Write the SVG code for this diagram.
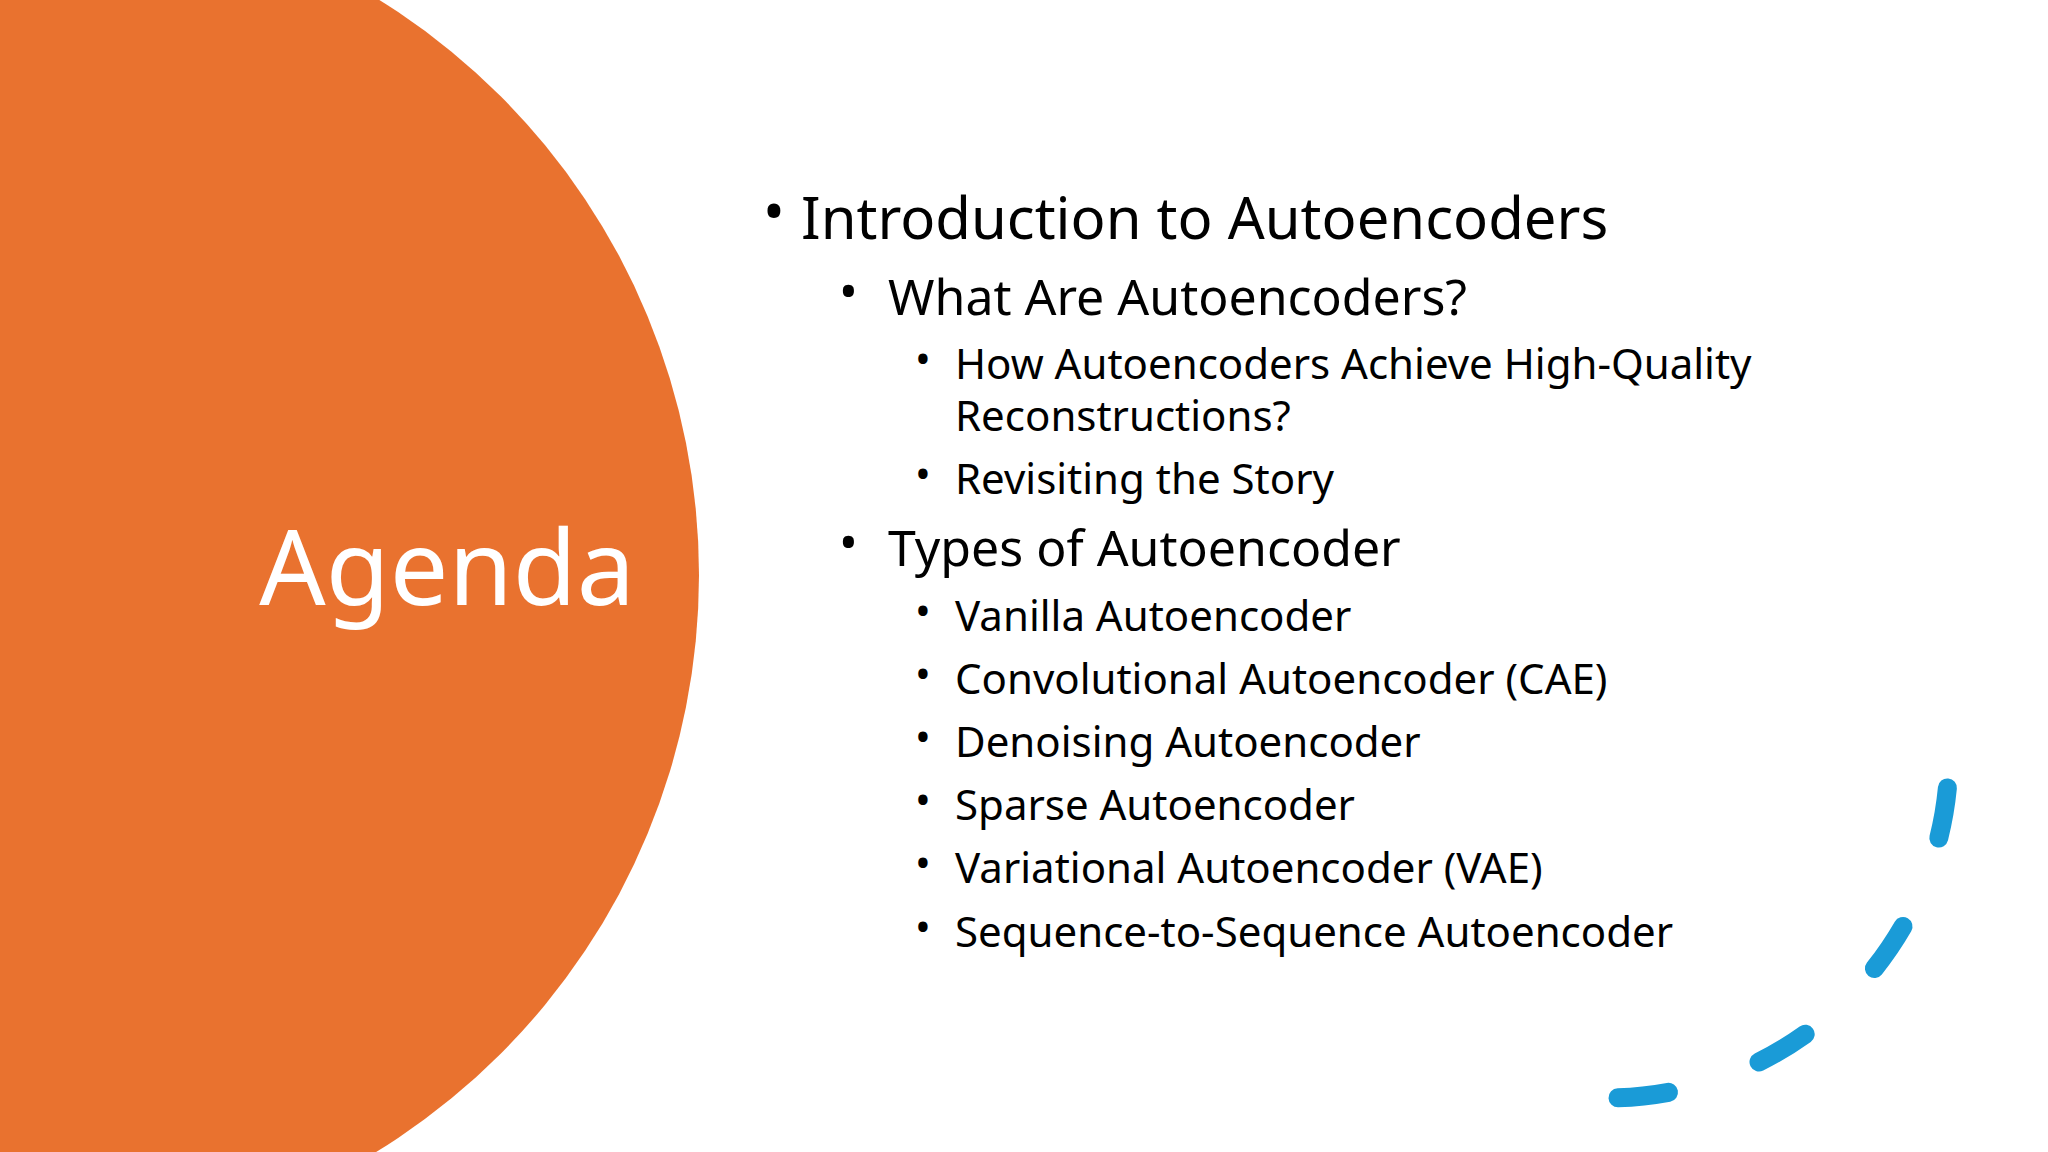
<svg xmlns="http://www.w3.org/2000/svg" width="2048" height="1152" viewBox="0 0 2048 1152">
<style>
text{font-family:"Noto Sans","Open Sans","Liberation Sans",sans-serif;fill:#000}
.l1{font-size:58px}.l2{font-size:50px}.l3{font-size:42px}
.arc{fill:none;stroke:#1A9BD7;stroke-width:19;stroke-linecap:round}
</style>
<rect width="2048" height="1152" fill="#fff"/>
<g id="circle"><circle cx="22" cy="575" r="677" fill="#E9722F"/>
<text x="635" y="605" font-size="104" text-anchor="end" style="fill:#fff">Agenda</text></g>
<g id="list">
<text class="l1" x="763" y="232">•</text><text class="l1" x="801" y="239">Introduction to Autoencoders</text>
<text class="l2" x="839" y="309">•</text><text class="l2" x="888" y="315">What Are Autoencoders?</text>
<text class="l3" x="915" y="374">•</text><text class="l3" x="955" y="379">How Autoencoders Achieve High-Quality</text>
<text class="l3" x="955" y="431">Reconstructions?</text>
<text class="l3" x="915" y="489">•</text><text class="l3" x="955" y="494">Revisiting the Story</text>
<text class="l2" x="839" y="560">•</text><text class="l2" x="888" y="566">Types of Autoencoder</text>
<text class="l3" x="915" y="626">•</text><text class="l3" x="955" y="631">Vanilla Autoencoder</text>
<text class="l3" x="915" y="689">•</text><text class="l3" x="955" y="694">Convolutional Autoencoder (CAE)</text>
<text class="l3" x="915" y="752">•</text><text class="l3" x="955" y="757">Denoising Autoencoder</text>
<text class="l3" x="915" y="815">•</text><text class="l3" x="955" y="820">Sparse Autoencoder</text>
<text class="l3" x="915" y="878">•</text><text class="l3" x="955" y="883">Variational Autoencoder (VAE)</text>
<text class="l3" x="915" y="942">•</text><text class="l3" x="955" y="947">Sequence-to-Sequence Autoencoder</text>
</g>
<g id="dashes">
<path class="arc" d="M1947.4 787.9 A343 343 0 0 1 1938.8 838"/>
<path class="arc" d="M1903 926.5 A343 343 0 0 1 1874.4 968.5"/>
<path class="arc" d="M1805.2 1034.2 A343 343 0 0 1 1759 1062"/>
<path class="arc" d="M1668.5 1092.3 A343 343 0 0 1 1618 1097.8"/>
</g>
</svg>
